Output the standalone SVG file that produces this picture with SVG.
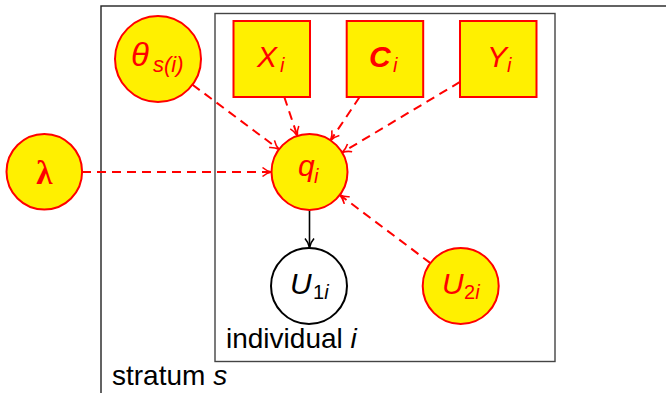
<svg xmlns="http://www.w3.org/2000/svg" width="666" height="393" viewBox="0 0 666 393">
<style>
.box{fill:none;stroke:#333;stroke-width:1.4}
.rn{fill:#FFF000;stroke:#FF0000;stroke-width:2}
.bn{fill:#FFFFFF;stroke:#000;stroke-width:2}
.t{font-family:"Liberation Sans",Arial,sans-serif;font-size:28px}
.l{font-size:30px}
.r{fill:#FF0000}
.k{fill:#000}
.it{font-style:italic}
.sub{font-size:20px}
.dash{fill:none;stroke:#FF0000;stroke-width:2;stroke-dasharray:9 6}
.solid{fill:none;stroke:#000;stroke-width:1.6}
</style>
<defs>
<marker id="ar" markerUnits="userSpaceOnUse" viewBox="0 0 12 12" refX="11" refY="6" markerWidth="12" markerHeight="12" orient="auto">
<path d="M2,1.5 Q6,5 11,6 Q6,7 2,10.5" fill="none" stroke="#FF0000" stroke-width="1.6"/>
</marker>
<marker id="ak" markerUnits="userSpaceOnUse" viewBox="0 0 12 12" refX="11" refY="6" markerWidth="12" markerHeight="12" orient="auto">
<path d="M2,1.5 Q6,5 11,6 Q6,7 2,10.5" fill="none" stroke="#000" stroke-width="1.6"/>
</marker>
</defs>
<g id="plates">
<rect class="box" x="101" y="6" width="620" height="420" style="stroke:#222"/>
<rect class="box" x="215" y="13.5" width="340" height="348" style="stroke:#444"/>
<text class="t k" x="112" y="385">stratum <tspan class="it">s</tspan></text>
<text class="t k" x="226" y="348">individual <tspan class="it">i</tspan></text>
</g>
<g id="connectors">
<line class="dash" x1="192.5" y1="84.7" x2="279" y2="149.3" marker-end="url(#ar)"/>
<line class="dash" x1="284.3" y1="97" x2="297.4" y2="136" marker-end="url(#ar)"/>
<line class="dash" x1="359.6" y1="97" x2="330.6" y2="140.4" marker-end="url(#ar)"/>
<line class="dash" x1="460" y1="81.9" x2="342.1" y2="152.5" marker-end="url(#ar)"/>
<line class="dash" x1="82" y1="172" x2="271.5" y2="172" marker-end="url(#ar)"/>
<line class="dash" x1="430.4" y1="263.1" x2="339.8" y2="194.9" marker-end="url(#ar)"/>
<line class="solid" x1="309.5" y1="210" x2="309.5" y2="247.5" marker-end="url(#ak)"/>
</g>
<g id="theta">
<circle class="rn" cx="158" cy="59" r="43"/>
<text class="t r it" x="131" y="66" style="font-size:33px">θ<tspan x="153" y="72" style="font-size:22px">s(i)</tspan></text>
</g>
<g id="X">
<rect class="rn" x="233.5" y="21" width="76.5" height="76"/>
<text class="t l r it" x="257" y="67">X<tspan class="sub" x="280" y="72">i</tspan></text>
</g>
<g id="C">
<rect class="rn" x="346.7" y="21" width="76.5" height="76"/>
<text class="t l r it" x="369" y="67" font-weight="bold">C<tspan class="sub" font-weight="normal" x="393" y="72">i</tspan></text>
</g>
<g id="Y">
<rect class="rn" x="460" y="21" width="76.5" height="76"/>
<text class="t l r it" x="487" y="67">Y<tspan class="sub" x="507" y="72">i</tspan></text>
</g>
<g id="lambda">
<circle class="rn" cx="44.3" cy="171.8" r="37.8"/>
<text class="r" x="44.3" y="184" text-anchor="middle" font-family="Liberation Serif,serif" font-weight="bold" font-size="33">λ</text>
</g>
<g id="q">
<circle class="rn" cx="309.5" cy="172" r="38"/>
<text class="t l r it" x="298" y="176">q<tspan class="sub" x="314" y="183">i</tspan></text>
</g>
<g id="U1">
<circle class="bn" cx="309" cy="286" r="38"/>
<text class="t l k it" x="290" y="294">U<tspan class="sub" font-style="normal" x="313" y="299">1</tspan><tspan class="sub">i</tspan></text>
</g>
<g id="U2">
<circle class="rn" cx="460.7" cy="286" r="38"/>
<text class="t l r it" x="442" y="294">U<tspan class="sub" font-style="normal" x="464" y="299">2</tspan><tspan class="sub">i</tspan></text>
</g>
</svg>
